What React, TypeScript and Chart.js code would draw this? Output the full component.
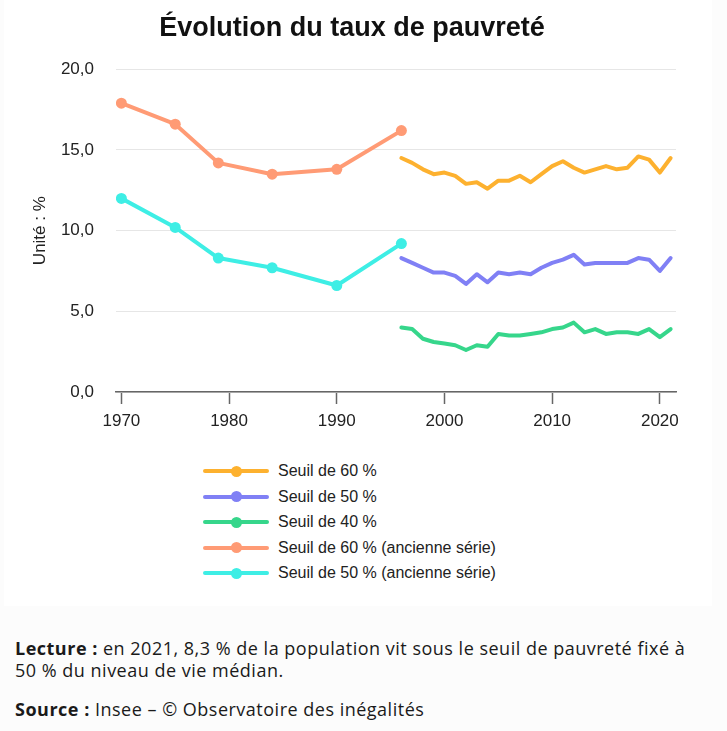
import React, { useEffect, useRef } from "react";
import { Chart, registerables } from "chart.js";

Chart.register(...registerables);

const FONT = "'Liberation Sans', Arial, Helvetica, sans-serif";
const FOOT_FONT = "'Open Sans', Lato, sans-serif";

// ---- Data ----
const yearsOld = [1970, 1975, 1979, 1984, 1990, 1996];
const old60 = [17.9, 16.6, 14.2, 13.5, 13.8, 16.2];
const old50 = [12.0, 10.2, 8.3, 7.7, 6.6, 9.2];

const yearsNew = [
  1996, 1997, 1998, 1999, 2000, 2001, 2002, 2003, 2004, 2005, 2006, 2007, 2008,
  2009, 2010, 2011, 2012, 2013, 2014, 2015, 2016, 2017, 2018, 2019, 2020, 2021,
];
const s60 = [
  14.5, 14.2, 13.8, 13.5, 13.6, 13.4, 12.9, 13.0, 12.6, 13.1, 13.1, 13.4, 13.0,
  13.5, 14.0, 14.3, 13.9, 13.6, 13.8, 14.0, 13.8, 13.9, 14.6, 14.4, 13.6, 14.5,
];
const s50 = [
  8.3, 8.0, 7.7, 7.4, 7.4, 7.2, 6.7, 7.3, 6.8, 7.4, 7.3, 7.4, 7.3,
  7.7, 8.0, 8.2, 8.5, 7.9, 8.0, 8.0, 8.0, 8.0, 8.3, 8.2, 7.5, 8.3,
];
const s40 = [
  4.0, 3.9, 3.3, 3.1, 3.0, 2.9, 2.6, 2.9, 2.8, 3.6, 3.5, 3.5, 3.6,
  3.7, 3.9, 4.0, 4.3, 3.7, 3.9, 3.6, 3.7, 3.7, 3.6, 3.9, 3.4, 3.9,
];

const xTicks = [1970, 1980, 1990, 2000, 2010, 2020];

const seriesLabels = [
  "Seuil de 60 %",
  "Seuil de 50 %",
  "Seuil de 40 %",
  "Seuil de 60 % (ancienne série)",
  "Seuil de 50 % (ancienne série)",
];
const seriesColors = ["#FDB12F", "#8080F5", "#36D68B", "#FF9B75", "#3EEEE5"];

const toPoints = (xs: number[], ys: number[]) =>
  xs.map((x, i) => ({ x, y: ys[i] }));

export default function App() {
  const ref = useRef<HTMLCanvasElement>(null);

  useEffect(() => {
    document.body.style.margin = "0";
    document.body.style.background = "#fcfcfc";
    const canvas = ref.current;
    if (!canvas) return;

    const common = {
      borderWidth: 4,
      tension: 0,
      borderJoinStyle: "round" as const,
      borderCapStyle: "round" as const,
      fill: false,
    };

    const chart = new Chart(canvas, {
      type: "line",
      data: {
        datasets: [
          { ...common, label: seriesLabels[0], data: toPoints(yearsNew, s60), borderColor: seriesColors[0], backgroundColor: seriesColors[0], pointRadius: 0 },
          { ...common, label: seriesLabels[1], data: toPoints(yearsNew, s50), borderColor: seriesColors[1], backgroundColor: seriesColors[1], pointRadius: 0 },
          { ...common, label: seriesLabels[2], data: toPoints(yearsNew, s40), borderColor: seriesColors[2], backgroundColor: seriesColors[2], pointRadius: 0 },
          { ...common, label: seriesLabels[3], data: toPoints(yearsOld, old60), borderColor: seriesColors[3], backgroundColor: seriesColors[3], pointRadius: 5.5, pointBorderWidth: 0 },
          { ...common, label: seriesLabels[4], data: toPoints(yearsOld, old50), borderColor: seriesColors[4], backgroundColor: seriesColors[4], pointRadius: 5.5, pointBorderWidth: 0 },
        ],
      },
      options: {
        animation: false,
        responsive: true,
        maintainAspectRatio: false,
        layout: { padding: { left: 28, right: 51, top: 0, bottom: 0 } },
        plugins: {
          legend: { display: false },
          tooltip: { enabled: false },
          title: {
            display: true,
            text: "Évolution du taux de pauvreté",
            color: "#111",
            font: { family: FONT, size: 27, weight: "bold" },
            padding: { top: 12.5, bottom: 24.4 },
          },
        },
        scales: {
          x: {
            type: "linear",
            min: 1969.5,
            max: 2021.5,
            afterBuildTicks: (s: any) => {
              s.ticks = xTicks.map((v) => ({ value: v }));
            },
            afterFit: (s: any) => {
              s.height = 40;
            },
            ticks: {
              callback: (v: any) => String(v),
              color: "#222",
              font: { family: FONT, size: 17 },
              padding: 7,
              maxRotation: 0,
              autoSkip: false,
            },
            grid: {
              drawOnChartArea: false,
              drawTicks: true,
              tickLength: 12,
              tickColor: "#666",
              tickWidth: 1.5,
            },
            border: { display: true, color: "#666", width: 1.5 },
          },
          y: {
            min: 0,
            max: 20,
            afterFit: (s: any) => {
              s.width = 88;
            },
            ticks: {
              stepSize: 5,
              callback: (v: any) => Number(v).toFixed(1).replace(".", ","),
              color: "#222",
              font: { family: FONT, size: 17 },
              padding: 22,
            },
            grid: { color: "#e6e6e6", lineWidth: 1, drawTicks: false },
            border: { display: false },
            title: {
              display: true,
              text: "Unité : %",
              color: "#222",
              font: { family: FONT, size: 17 },
              padding: { top: 2.3, bottom: 0 },
            },
          },
        },
      },
    });
    return () => chart.destroy();
  }, []);

  return (
    <div style={{ position: "relative", width: 727, height: 731, background: "#fcfcfc", overflow: "hidden" }}>
      <div style={{ position: "absolute", left: 4, top: 0, width: 708, height: 606, background: "#ffffff" }} />
      <div style={{ position: "absolute", left: 0, top: 0, width: 727, height: 432 }}>
        <canvas ref={ref} />
      </div>
      {seriesLabels.map((label, i) => {
        const cy = 471 + i * 25.5;
        return (
          <div key={label}>
            <div style={{ position: "absolute", left: 203, top: cy - 2, width: 66, height: 4, borderRadius: 2, background: seriesColors[i] }} />
            <div style={{ position: "absolute", left: 230.5, top: cy - 5.5, width: 11, height: 11, borderRadius: "50%", background: seriesColors[i] }} />
            <div style={{ position: "absolute", left: 278, top: cy - 10, height: 20, lineHeight: "20px", fontFamily: FONT, fontSize: 16, color: "#222", whiteSpace: "nowrap" }}>
              {label}
            </div>
          </div>
        );
      })}
      <div style={{ position: "absolute", left: 15, top: 637, fontFamily: FOOT_FONT, fontSize: 18, letterSpacing: "0.5px", lineHeight: "22px", color: "#1a1a1a", whiteSpace: "nowrap" }}>
        <strong>Lecture :</strong> en 2021, 8,3 % de la population vit sous le seuil de pauvreté fixé à
        <br />
        50 % du niveau de vie médian.
      </div>
      <div style={{ position: "absolute", left: 15, top: 698, fontFamily: FOOT_FONT, fontSize: 18, letterSpacing: "0.5px", lineHeight: "22px", color: "#1a1a1a", whiteSpace: "nowrap" }}>
        <strong>Source :</strong> Insee – © Observatoire des inégalités
      </div>
    </div>
  );
}
